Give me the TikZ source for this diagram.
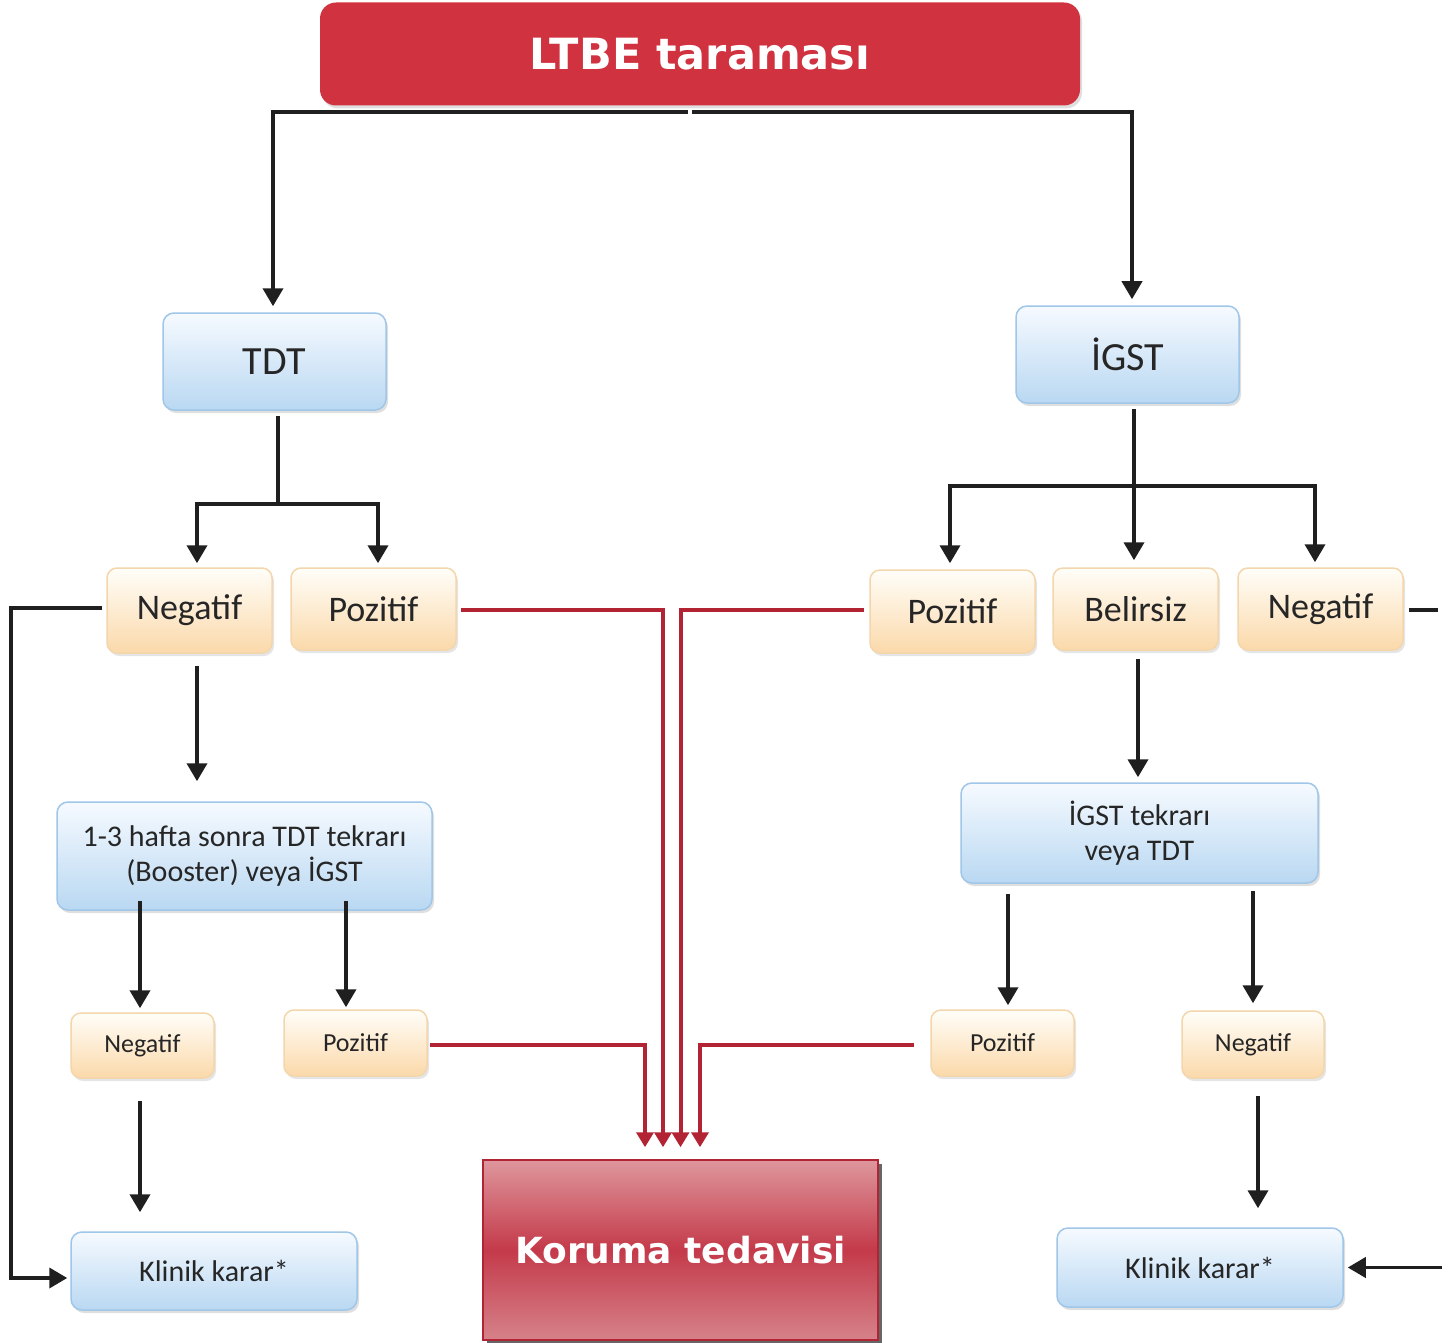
\documentclass[tikz,border=0pt]{standalone}
\usepackage{fontspec}
\setmainfont{Carlito}
\newfontfamily\verd{DejaVu Sans}
\usetikzlibrary{arrows.meta,shadows}
\definecolor{redbox}{RGB}{208,50,64}
\definecolor{redline}{RGB}{178,36,52}
\definecolor{bluetop}{RGB}{246,250,255}
\definecolor{bluebot}{RGB}{185,216,242}
\definecolor{blueedge}{RGB}{160,198,232}
\definecolor{ortop}{RGB}{255,254,249}
\definecolor{orbot}{RGB}{251,217,170}
\definecolor{oredge}{RGB}{244,214,172}
\definecolor{kortop}{RGB}{222,150,156}
\definecolor{kormid}{RGB}{196,58,74}
\definecolor{korbot}{RGB}{214,130,138}
\begin{document}
\begin{tikzpicture}[x=1pt,y=-1pt,
  bluebox/.style={rounded corners=11pt, top color=bluetop, bottom color=bluebot, draw=blueedge, line width=1.5pt,
    drop shadow={shadow xshift=2pt, shadow yshift=-3pt, opacity=0.25}, inner sep=0pt, text=black!85},
  orbox/.style={rounded corners=10pt, top color=ortop, bottom color=orbot, draw=oredge, line width=1.5pt,
    drop shadow={shadow xshift=2pt, shadow yshift=-3pt, opacity=0.2}, inner sep=0pt, text=black!85},
  arr/.style={draw=black!88, line width=3.8pt, -{Triangle[length=18pt,width=20pt]}},
  ln/.style={draw=black!88, line width=3.8pt},
  redarr/.style={draw=redline, line width=4pt, -{Triangle[length=15pt,width=17pt]}},
  big/.style={font=\fontsize{40}{44}\selectfont},
  mid/.style={font=\fontsize{36}{40}\selectfont},
  txt/.style={font=\fontsize{30}{35}\selectfont, align=center},
  sml/.style={font=\fontsize{26}{30}\selectfont}
]
\useasboundingbox (0,0) rectangle (1449,1343);
\fill[white] (0,0) rectangle (1449,1343);

% top box
\node[rounded corners=16pt, fill=redbox, minimum width=760pt, minimum height=103pt, inner sep=0pt,
  drop shadow={shadow xshift=2pt, shadow yshift=-3pt, opacity=0.25},
  font=\verd\bfseries\fontsize{43}{46}\selectfont, text=white] (ltbe) at (700,54) {LTBE taraması};

% level 1
\node[bluebox, big, minimum width=223pt, minimum height=97pt] (tdt) at (274.5,361.5) {TDT};
\node[bluebox, big, minimum width=223pt, minimum height=97pt] (igst) at (1127.5,354.5) {İGST};

% level 2
\node[orbox, mid, minimum width=165pt, minimum height=85pt] (negL) at (189.5,610.5) {Negatif};
\node[orbox, mid, minimum width=165pt, minimum height=82pt] (pozL) at (373.5,609) {Pozitif};
\node[orbox, mid, minimum width=165pt, minimum height=83pt] (pozR) at (952.5,611.5) {Pozitif};
\node[orbox, mid, minimum width=165pt, minimum height=82pt] (bel) at (1135.5,609) {Belirsiz};
\node[orbox, mid, minimum width=165pt, minimum height=82pt] (negR) at (1320.5,609) {Negatif};

% level 3
\node[bluebox, txt, minimum width=375pt, minimum height=108pt] (boost) at (244.5,856) {1-3 hafta sonra TDT tekrarı\\(Booster) veya İGST};
\node[bluebox, txt, minimum width=357pt, minimum height=100pt] (igstt) at (1139.5,833) {İGST tekrarı\\veya TDT};

% level 4
\node[orbox, sml, minimum width=143pt, minimum height=65pt] (negS1) at (142.5,1045.5) {Negatif};
\node[orbox, sml, minimum width=143pt, minimum height=66pt] (pozS1) at (355.5,1043) {Pozitif};
\node[orbox, sml, minimum width=143pt, minimum height=66pt] (pozS2) at (1002.5,1043) {Pozitif};
\node[orbox, sml, minimum width=142pt, minimum height=67pt] (negS2) at (1253,1044.5) {Negatif};

% level 5
\node[bluebox, txt, minimum width=286pt, minimum height=78pt] (klinL) at (214,1271) {Klinik karar*};
\node[bluebox, txt, minimum width=286pt, minimum height=79pt] (klinR) at (1200,1267.5) {Klinik karar*};

\node[top color=kortop, bottom color=korbot, middle color=kormid, draw=redline, line width=1.5pt,
  minimum width=395pt, minimum height=180pt, inner sep=0pt,
  drop shadow={shadow xshift=4pt, shadow yshift=-4pt, opacity=0.75, fill=black!80},
  font=\verd\bfseries\fontsize{36}{40}\selectfont, text=white] (koruma) at (680.5,1250) {Koruma tedavisi};

% connectors from top
\draw[arr] ([xshift=-12pt,yshift=-6pt]ltbe.south) -| ([xshift=-1.5pt,yshift=6pt]tdt.north);
\draw[arr] ([xshift=-8pt,yshift=-6pt]ltbe.south) -| ([xshift=4.5pt,yshift=6pt]igst.north);

% TDT branch
\coordinate (jL) at ([xshift=3.5pt,yshift=-93pt]tdt.south);
\draw[ln] ([xshift=3.5pt,yshift=-5pt]tdt.south) -- (jL);
\draw[arr] (jL) -| ([xshift=7.5pt,yshift=4pt]negL.north);
\draw[arr] (jL) -| ([xshift=4.5pt,yshift=4pt]pozL.north);

% IGST branch
\coordinate (jR) at ([yshift=-82pt]igst.south -| bel.north);
\draw[arr] ([xshift=-1.5pt,yshift=-5pt]igst.south -| bel.north) -- ([xshift=-1.5pt,yshift=7pt]bel.north);
\draw[arr] ([xshift=-1.5pt]jR) -| ([xshift=-2.5pt,yshift=6pt]pozR.north);
\draw[arr] ([xshift=-1.5pt]jR) -| ([xshift=-5.5pt,yshift=5pt]negR.north);

% left loop
\draw[arr] ([xshift=-4pt,yshift=2.5pt]negL.west) -- ++(-91,0) |- ([xshift=-3pt,yshift=-7pt]klinL.west);
\draw[arr] ([xshift=7.5pt,yshift=-12pt]negL.south) -- ([xshift=7.5pt,yshift=20pt]negL.south |- boost.north);

\draw[arr] ([xshift=-2.5pt,yshift=10pt]negS1.north |- boost.south) -- ([xshift=-2.5pt,yshift=4pt]negS1.north);
\draw[arr] ([xshift=-9.5pt,yshift=10pt]pozS1.north |- boost.south) -- ([xshift=-9.5pt,yshift=2pt]pozS1.north);
\draw[arr] ([xshift=-2.5pt,yshift=-22pt]negS1.south) -- ([xshift=-2.5pt,yshift=19pt]negS1.south |- klinL.north);

% right side
\draw[arr] ([xshift=2.5pt,yshift=-8pt]bel.south) -- ([xshift=2.5pt,yshift=5pt]bel.south |- igstt.north);
\draw[arr] ([xshift=5.5pt,yshift=-10pt]pozS2.north |- igstt.south) -- ([xshift=5.5pt,yshift=4pt]pozS2.north);
\draw[arr] ([yshift=-7pt]negS2.north |- igstt.south) -- ([yshift=7pt]negS2.north);
\draw[arr] ([xshift=5pt,yshift=-17pt]negS2.south) -- ([xshift=5pt,yshift=19pt]negS2.south |- klinR.north);

\draw[ln] ([xshift=5pt,yshift=-1pt]negR.east) -- ++(29,0);
\coordinate (inR) at ([xshift=98pt]klinR.east);
\draw[arr] (inR) -- ([xshift=4pt]klinR.east);

% red connectors
\draw[redarr] ([xshift=4pt,yshift=-1pt]pozL.east) -| ([xshift=-17.5pt,yshift=12pt]koruma.north);
\draw[redarr] ([xshift=-5pt,yshift=1.5pt]pozR.west) -| ([xshift=0pt,yshift=12pt]koruma.north);
\draw[redarr] ([xshift=2pt,yshift=-2pt]pozS1.east) -| ([xshift=-35.5pt,yshift=12pt]koruma.north);
\draw[redarr] ([xshift=-16pt,yshift=-2pt]pozS2.west) -| ([xshift=19.5pt,yshift=12pt]koruma.north);
\end{tikzpicture}
\end{document}
